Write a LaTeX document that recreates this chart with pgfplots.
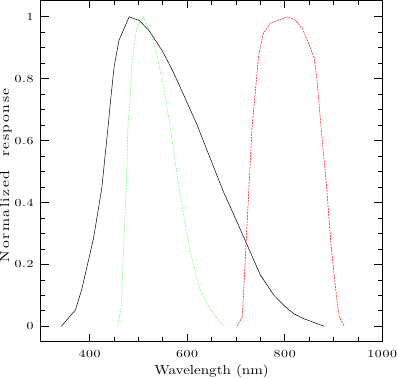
\documentclass[border=0pt]{standalone}
\usepackage{fontspec}
\setmainfont{lmroman10-regular}[Extension=.otf]
\newfontfamily\ticksfont{lmroman10-regular}[Extension=.otf, FakeStretch=1.28, LetterSpace=6]
\newfontfamily\xlabfont{lmroman10-regular}[Extension=.otf, FakeStretch=1.16]
\newfontfamily\ylabfont{lmroman10-regular}[Extension=.otf, FakeStretch=1.2, LetterSpace=12, WordSpace=2]
\usepackage{pgfplots}
\pgfplotsset{compat=1.18}

\begin{document}
\begin{tikzpicture}
  \begin{axis}[
    scale only axis,
    width=340bp, height=340bp,
    xmin=300, xmax=1000,
    ymin=-0.05, ymax=1.053,
    xtick={400,600,800,1000},
    xticklabels={400,600,800,1000},
    ytick={0,0.2,0.4,0.6,0.8,1},
    yticklabels={0,0.2,0.4,0.6,0.8,1},
    minor x tick num=3,
    minor y tick num=3,
    tick align=inside,
    xtick pos=both, ytick pos=both,
    major tick length=8bp,
    minor tick length=4.5bp,
    tick style={black, line width=0.6pt},
    axis line style={line width=0.8pt},
    tick label style={font=\ticksfont\fontsize{10.8}{13}\selectfont},
    yticklabel style={inner sep=0pt, xshift=-7bp},
    xticklabel style={inner sep=0pt, yshift=-8bp},
    xlabel={Wavelength (nm)},
    ylabel={Normalized response},
    xlabel style={font=\xlabfont\fontsize{13}{15}\selectfont,
      at={(axis description cs:0.5,-0.0676)}, anchor=north, inner sep=0pt},
    ylabel style={font=\ylabfont\fontsize{13}{15}\selectfont,
      at={(axis description cs:-0.0853,0.488)}, anchor=south, inner sep=0pt},
  ]
    % black filter curve
    \addplot[black, line width=0.5pt] coordinates {
      (342,0) (371,0.053) (384,0.12) (408,0.284) (425,0.447) (439,0.663)
      (443,0.73) (450,0.836) (460,0.923) (481,1.0) (502,0.988) (522,0.955)
      (549,0.89) (564,0.845) (572,0.82) (595,0.74) (620,0.652)
      (647,0.544) (674,0.436) (702,0.338) (723,0.263) (750,0.166)
      (778,0.1) (800,0.065) (819,0.04) (840,0.024) (881,0)
    };
    % green filter curve
    \addplot[green, line width=0.5pt, densely dotted] coordinates {
      (457,0) (465,0.06) (469,0.23) (475,0.447) (479,0.66) (483,0.728)
      (487,0.858) (497,0.966) (510,1.0) (526,0.945) (539,0.87) (553,0.76)
      (564,0.658) (584,0.44) (605,0.25) (626,0.12) (647,0.056) (674,0)
    };
    % red filter curve
    \addplot[red, line width=0.5pt, dash pattern=on 2pt off 1pt] coordinates {
      (702,0) (713,0.03) (719,0.21) (726,0.425) (733,0.64) (740,0.76)
      (746,0.87) (756,0.945) (771,0.98) (788,0.99) (806,1.0) (823,0.988)
      (837,0.96) (850,0.91) (860,0.87) (866,0.8) (872,0.69) (879,0.566)
      (885,0.47) (895,0.263) (906,0.1) (912,0.03) (922,0)
    };
  \end{axis}
\end{tikzpicture}
\end{document}
